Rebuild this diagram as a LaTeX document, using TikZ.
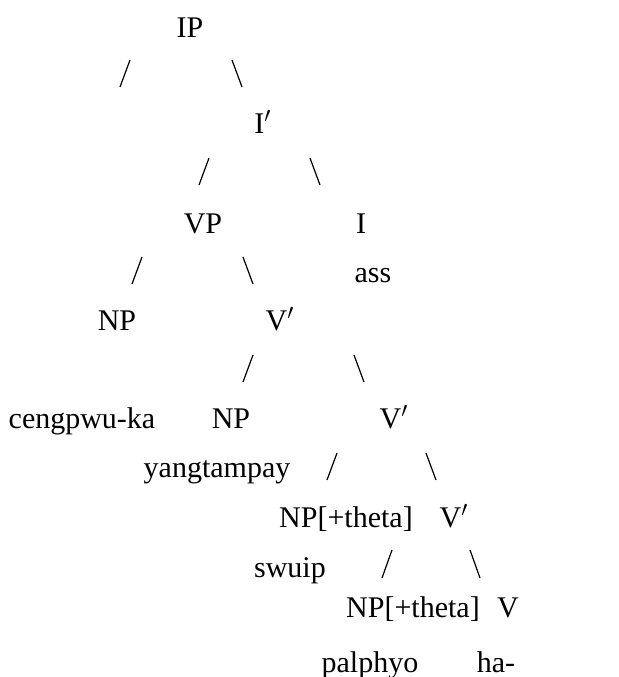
\documentclass[tikz,border=0pt]{standalone}
\usepackage{fontspec}
\setmainfont{Liberation Serif}
\usepackage{tikz}

\begin{document}
\begin{tikzpicture}[
  x=0.5pt, y=-0.5pt,
  every node/.style={font=\fontsize{15}{18}\selectfont, inner sep=0pt, anchor=base},
  cat/.style={text=black},
  word/.style={text=black},
  branch/.style={line width=0.6pt, black},
]
\useasboundingbox (0,0) rectangle (618,677);

% Categories
\node[cat] (ip)    at (190,37)  {IP};
\node[cat] (ibar)  at (263,133) {I$'$};
\node[cat] (vp)    at (203,233) {VP};
\node[cat] (infl)  at (361,233) {I};
\node[cat] (subj)  at (117,330) {NP};
\node[cat] (vbarA) at (280,330) {V$'$};
\node[cat] (obj)   at (231,428) {NP};
\node[cat] (vbarB) at (394,428) {V$'$};
\node[cat] (thA)   at (346,527) {NP[+theta]};
\node[cat] (vbarC) at (454,527) {V$'$};
\node[cat] (thB)   at (413,617) {NP[+theta]};
\node[cat] (verb)  at (508,617) {V};

% Words
\node[word] (ass)  at (373,282) {ass};
\node[word] (cpk)  at (82,428)  {cengpwu-ka};
\node[word] (ytp)  at (217,477) {yangtampay};
\node[word] (swp)  at (290,577) {swuip};
\node[word] (pph)  at (370,672) {palphyo};
\node[word] (ha)   at (496,672) {ha-};

% Branches
\draw[branch] (120,87) -- (130,60);
\draw[branch] (232,60) -- (242,87);
\draw[branch] (199,185) -- (209,158);
\draw[branch] (310,158) -- (320,185);
\draw[branch] (132,284) -- (142,257);
\draw[branch] (243,257) -- (253,284);
\draw[branch] (243,382) -- (253,355);
\draw[branch] (354,355) -- (364,382);
\draw[branch] (327,480) -- (337,453);
\draw[branch] (426,453) -- (436,480);
\draw[branch] (382,578) -- (392,550);
\draw[branch] (470,550) -- (480,578);

\end{tikzpicture}
\end{document}
